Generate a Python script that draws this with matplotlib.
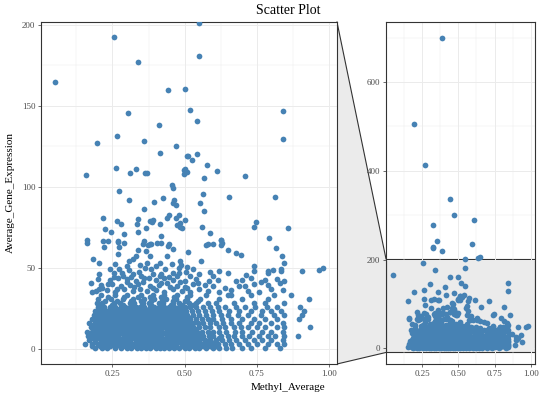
import numpy as np
import matplotlib.pyplot as plt
from matplotlib.patches import Polygon, Rectangle
from matplotlib.ticker import MultipleLocator

plt.rcParams['font.family'] = ['Liberation Serif', 'DejaVu Serif']

# sparse points (Methyl_Average, Average_Gene_Expression)
sparse_x = [0.049, 0.257, 0.34, 0.441, 0.501, 0.305, 0.411, 0.518, 0.265,
            0.549, 0.549, 0.544, 0.84, 0.84,
            0.195, 0.359, 0.469, 0.414, 0.51, 0.157, 0.263, 0.312, 0.33, 0.363, 0.37,
            0.497, 0.503, 0.51, 0.497,
            0.458, 0.461, 0.273, 0.309, 0.425, 0.393, 0.462, 0.46, 0.472, 0.361,
            0.216, 0.265, 0.28, 0.338, 0.335, 0.38, 0.387, 0.392, 0.415, 0.44, 0.445,
            0.47, 0.48, 0.474, 0.485, 0.485, 0.49,
            0.224, 0.244, 0.289, 0.34, 0.365, 0.162, 0.162, 0.216, 0.234, 0.27, 0.36,
            0.355, 0.382, 0.403, 0.42, 0.445,
            0.512, 0.527, 0.542, 0.577, 0.614, 0.568, 0.711, 0.563, 0.655, 0.815, 0.552,
            0.568, 0.5, 0.559, 0.587, 0.749, 0.742, 0.858, 0.792, 0.626, 0.58, 0.6, 0.63,
            0.575, 0.627, 0.627, 0.22, 0.274, 0.339, 0.365, 0.373, 0.443, 0.46, 0.513,
            0.65, 0.818, 0.38, 0.42, 0.27, 0.29,
            0.391, 0.192, 0.269, 0.442, 0.47, 0.609, 0.324, 0.356, 0.326, 0.326, 0.592,
            0.389, 0.637, 0.648]
sparse_y = [164.7, 192.6, 177, 159.8, 160.4, 145.6, 138.5, 147.7, 131.3,
            201, 181, 140.5, 146.9, 129.6,
            127.4, 128.2, 125, 120.8, 119, 107.7, 111.8, 108.7, 111.4, 108.7, 108.7,
            110.5, 111, 109, 108,
            101.5, 99.5, 97.8, 92, 93.3, 90.5, 92, 90, 89, 86.3,
            81, 79, 77.3, 80.4, 77.1, 79, 78.5, 79.5, 77.5, 81, 82.5,
            81, 82.5, 76.5, 78, 75.5, 74.5,
            74.2, 72.2, 71, 72.5, 74.5, 67.7, 65.4, 67, 67, 66, 66.5,
            64.8, 65, 65.3, 69.7, 65,
            119, 116.5, 120.6, 113.6, 110, 105.8, 106.7, 95.6, 94, 94, 90.2,
            85.3, 80, 75.7, 72, 78.6, 75.3, 75, 68.5, 67.5, 65, 65, 65.5,
            64.6, 67.3, 64.6, 63.2, 63, 61.5, 60.5, 64.6, 63.6, 62, 60,
            61.5, 62.6, 65, 65.6, 67, 65.5,
            700, 506, 413, 337, 301, 289, 278, 241, 229, 226, 235,
            219, 204, 205]

# middle band (about 35 to 60)
mid_x = [0.178, 0.204, 0.194, 0.23, 0.26, 0.29, 0.32, 0.345, 0.37, 0.4, 0.43, 0.46,
         0.49, 0.52, 0.55, 0.58, 0.62, 0.66, 0.719, 0.76, 0.8, 0.84,
         0.175, 0.21, 0.25, 0.28, 0.31, 0.34, 0.38, 0.41, 0.44, 0.475, 0.5, 0.53,
         0.57, 0.6, 0.688, 0.711, 0.74, 0.79, 0.83,
         0.2, 0.24, 0.27, 0.3, 0.33, 0.36, 0.4, 0.43, 0.46, 0.5, 0.54, 0.616, 0.679,
         0.73, 0.78, 0.82, 0.845,
         0.202, 0.255, 0.283, 0.32, 0.343, 0.39, 0.418, 0.459, 0.482, 0.505, 0.55,
         0.59, 0.621, 0.65, 0.713, 0.742, 0.791, 0.835, 0.909,
         0.243, 0.274, 0.309, 0.364, 0.384, 0.433, 0.48, 0.53, 0.742, 0.789, 0.806,
         0.835, 0.967, 0.982,
         0.204, 0.182, 0.307, 0.321, 0.333, 0.371, 0.379, 0.414, 0.44, 0.483, 0.489,
         0.558, 0.679, 0.696, 0.837, 0.844, 0.268,
         0.215, 0.235, 0.265, 0.3, 0.325, 0.355, 0.39, 0.42, 0.45, 0.485, 0.51, 0.545,
         0.255, 0.285, 0.315, 0.35, 0.375, 0.415, 0.445, 0.475, 0.52,
         0.3, 0.345, 0.4, 0.455, 0.26, 0.51, 0.585, 0.64, 0.6, 0.7, 0.765, 0.66]
mid_y = [35.3, 37, 35.9, 36.5, 35.5, 37.2, 36, 37.5, 35.8, 36.8, 35.4, 37.1,
         36.2, 35.6, 37.4, 36.1, 35.3, 36.7, 36, 35.5, 37, 36.3,
         41, 39.5, 40.2, 38.8, 39.7, 40.5, 38.9, 39.8, 40.6, 39.2, 38.7, 40.1,
         39.4, 38.9, 39, 39, 40.3, 39.6, 41,
         43.2, 42.5, 44, 43.1, 42.3, 43.8, 42.7, 44.2, 43, 42.4, 43.6, 43, 42,
         44.1, 42.8, 43.5, 42.2,
         46.6, 47.2, 47.2, 46.5, 47.8, 46.2, 46.3, 47.2, 46.8, 47.5, 46.4,
         47.6, 48, 47, 45.9, 48, 47.2, 48, 48,
         49.6, 49.8, 49.2, 50.1, 49.4, 49.8, 50.4, 49.5, 51.3, 48.2, 49.2,
         49.6, 49.2, 50.3,
         53.4, 55.4, 54.4, 55.4, 57.5, 53.4, 57.5, 53.4, 57.5, 54.3, 52.3,
         54.4, 59.1, 58.2, 57.4, 53.4, 58.5,
         38, 40.5, 37.5, 41.5, 38.5, 41.8, 37.8, 41.2, 38.2, 41.5, 37.9, 40.8,
         44.5, 45.5, 44.8, 45.3, 44.2, 45, 44.6, 45.5, 45.2,
         51.5, 52, 51.2, 52.5, 52.8, 51, 42, 38, 45, 42.5, 41.5, 33.5]

# dense band near the bottom, row by row
dense_levels = [1, 3.5, 6, 8.5, 11, 13.5, 16, 18.5, 21, 23.5, 26, 28.5, 31, 33.5,
                2.3, 4.8, 7.3, 9.8, 12.3, 14.8, 17.3, 19.8, 22.3, 24.8, 27.3, 29.8, 32.3]
dense_rows = [
    [0.19, 0.215, 0.23, 0.26, 0.28, 0.3, 0.315, 0.335, 0.35, 0.365, 0.38, 0.4, 0.415, 0.43,
     0.445, 0.465, 0.48, 0.5, 0.515, 0.535, 0.55, 0.575, 0.6, 0.62, 0.645, 0.665, 0.7, 0.73,
     0.78, 0.83],
    [0.155, 0.18, 0.2, 0.22, 0.235, 0.25, 0.27, 0.285, 0.3, 0.32, 0.34, 0.355, 0.37, 0.385,
     0.4, 0.42, 0.44, 0.455, 0.47, 0.49, 0.51, 0.525, 0.54, 0.56, 0.58, 0.595, 0.615, 0.64,
     0.66, 0.69, 0.72, 0.75, 0.79, 0.82, 0.845],
    [0.17, 0.19, 0.21, 0.225, 0.245, 0.26, 0.275, 0.295, 0.31, 0.33, 0.345, 0.36, 0.375,
     0.39, 0.41, 0.425, 0.445, 0.46, 0.48, 0.495, 0.515, 0.53, 0.55, 0.57, 0.59, 0.61, 0.63,
     0.655, 0.68, 0.71, 0.74, 0.77, 0.8, 0.84],
    [0.165, 0.185, 0.205, 0.22, 0.24, 0.255, 0.27, 0.29, 0.305, 0.32, 0.34, 0.355, 0.37,
     0.39, 0.405, 0.42, 0.44, 0.455, 0.475, 0.49, 0.51, 0.525, 0.545, 0.565, 0.585, 0.6,
     0.625, 0.65, 0.67, 0.7, 0.725, 0.76, 0.79, 0.815, 0.845, 0.893],
    [0.16, 0.18, 0.2, 0.215, 0.235, 0.25, 0.265, 0.285, 0.3, 0.315, 0.335, 0.35, 0.365,
     0.38, 0.4, 0.415, 0.435, 0.45, 0.47, 0.485, 0.505, 0.52, 0.54, 0.56, 0.58, 0.6, 0.62,
     0.645, 0.675, 0.7, 0.735, 0.77, 0.8, 0.84],
    [0.175, 0.195, 0.215, 0.23, 0.245, 0.265, 0.28, 0.3, 0.315, 0.33, 0.35, 0.365, 0.38,
     0.395, 0.41, 0.43, 0.445, 0.46, 0.48, 0.5, 0.515, 0.53, 0.55, 0.57, 0.59, 0.62, 0.64,
     0.67, 0.695, 0.72, 0.75, 0.78, 0.82, 0.845, 0.937],
    [0.17, 0.19, 0.21, 0.225, 0.24, 0.26, 0.275, 0.29, 0.31, 0.325, 0.34, 0.36, 0.375,
     0.39, 0.405, 0.42, 0.44, 0.455, 0.475, 0.49, 0.51, 0.53, 0.545, 0.565, 0.59, 0.61,
     0.635, 0.66, 0.69, 0.73, 0.76, 0.8, 0.84],
    [0.18, 0.2, 0.22, 0.235, 0.25, 0.27, 0.285, 0.3, 0.32, 0.335, 0.35, 0.37, 0.385, 0.4,
     0.415, 0.435, 0.45, 0.47, 0.485, 0.5, 0.52, 0.54, 0.56, 0.58, 0.6, 0.63, 0.66, 0.7,
     0.74, 0.78, 0.82, 0.896],
    [0.185, 0.205, 0.225, 0.24, 0.26, 0.275, 0.29, 0.31, 0.325, 0.34, 0.36, 0.375, 0.39,
     0.41, 0.425, 0.44, 0.46, 0.475, 0.49, 0.51, 0.53, 0.55, 0.575, 0.6, 0.625, 0.65, 0.685,
     0.72, 0.765, 0.81, 0.845, 0.906],
    [0.19, 0.21, 0.23, 0.25, 0.265, 0.28, 0.3, 0.32, 0.335, 0.35, 0.365, 0.385, 0.4, 0.42,
     0.435, 0.45, 0.47, 0.49, 0.505, 0.525, 0.545, 0.57, 0.595, 0.62, 0.655, 0.69, 0.73,
     0.77, 0.8, 0.835, 0.915],
    [0.2, 0.22, 0.24, 0.26, 0.28, 0.295, 0.31, 0.33, 0.345, 0.36, 0.38, 0.395, 0.41, 0.43,
     0.445, 0.465, 0.48, 0.5, 0.52, 0.54, 0.565, 0.59, 0.615, 0.64, 0.68, 0.71, 0.745,
     0.785, 0.82, 0.9],
    [0.195, 0.215, 0.255, 0.275, 0.31, 0.325, 0.355, 0.375, 0.41, 0.425, 0.46, 0.48, 0.515,
     0.54, 0.58, 0.61, 0.67, 0.74, 0.78, 0.845],
    [0.2, 0.245, 0.285, 0.32, 0.36, 0.395, 0.435, 0.47, 0.51, 0.555, 0.62, 0.7, 0.79,
     0.933],
    [0.21, 0.26, 0.3, 0.35, 0.39, 0.43, 0.475, 0.52, 0.575, 0.65, 0.73, 0.81, 0.87],
    [0.178, 0.205, 0.243, 0.262, 0.292, 0.308, 0.327, 0.343, 0.36, 0.373, 0.39, 0.408,
     0.423, 0.437, 0.455, 0.472, 0.49, 0.508, 0.525, 0.545, 0.565, 0.59, 0.61],
    [0.19, 0.21, 0.228, 0.243, 0.262, 0.278, 0.293, 0.31, 0.33, 0.347, 0.362, 0.378, 0.393,
     0.41, 0.43, 0.448, 0.463, 0.48, 0.5, 0.518, 0.533, 0.55, 0.57, 0.605],
    [0.18, 0.2, 0.217, 0.235, 0.252, 0.268, 0.285, 0.302, 0.32, 0.337, 0.352, 0.368, 0.383,
     0.4, 0.417, 0.435, 0.452, 0.47, 0.488, 0.505, 0.522, 0.54, 0.56, 0.62],
    [0.172, 0.193, 0.21, 0.228, 0.247, 0.262, 0.278, 0.297, 0.312, 0.328, 0.345, 0.36,
     0.375, 0.393, 0.41, 0.428, 0.445, 0.462, 0.48, 0.497, 0.515, 0.532, 0.55, 0.59],
    [0.185, 0.205, 0.225, 0.24, 0.257, 0.273, 0.29, 0.307, 0.323, 0.34, 0.357, 0.372,
     0.388, 0.405, 0.42, 0.438, 0.455, 0.47, 0.49, 0.507, 0.523, 0.54],
    [0.18, 0.2, 0.218, 0.237, 0.253, 0.27, 0.288, 0.305, 0.32, 0.338, 0.355, 0.37, 0.387,
     0.403, 0.42, 0.437, 0.452, 0.47, 0.488, 0.505, 0.52],
    [0.195, 0.215, 0.232, 0.25, 0.267, 0.283, 0.3, 0.317, 0.333, 0.35, 0.367, 0.382, 0.398,
     0.413, 0.43, 0.447, 0.463, 0.48, 0.497, 0.515],
    [0.19, 0.21, 0.228, 0.245, 0.262, 0.278, 0.295, 0.312, 0.328, 0.345, 0.36, 0.378, 0.393,
     0.41, 0.425, 0.443, 0.46, 0.478, 0.495, 0.513],
    [0.2, 0.218, 0.235, 0.252, 0.27, 0.285, 0.302, 0.318, 0.335, 0.35, 0.368, 0.383, 0.4,
     0.418, 0.435, 0.45, 0.468, 0.485, 0.5],
    [0.205, 0.222, 0.24, 0.258, 0.273, 0.29, 0.31, 0.327, 0.343, 0.358, 0.375, 0.392, 0.408,
     0.425, 0.443, 0.46, 0.478, 0.495],
    [0.21, 0.25, 0.285, 0.32, 0.352, 0.385, 0.418, 0.452, 0.49, 0.528],
    [0.225, 0.265, 0.313, 0.348, 0.385, 0.423, 0.46, 0.5, 0.545],
    [0.235, 0.29, 0.34, 0.38, 0.42, 0.465, 0.51],
]

x = list(sparse_x) + list(mid_x)
y = list(sparse_y) + list(mid_y)
for lev, row in zip(dense_levels, dense_rows):
    x += row
    y += [lev] * len(row)
x = np.array(x)
y = np.array(y)

point_col = '#4682B4'
grid_col = '#EBEBEB'
dark = '#333333'
xlim = (0.002, 1.029)
zoom_ylim = (-9, 201.7)
full_ylim = (-35, 735)

fig = plt.figure(figsize=(5.4, 3.99), dpi=100)
ax = fig.add_axes([41 / 540, 35 / 399, 296 / 540, 342 / 399])
ax2 = fig.add_axes([386 / 540, 35 / 399, 149 / 540, 342 / 399])

for a in (ax, ax2):
    a.set_xlim(*xlim)
    a.xaxis.set_major_locator(MultipleLocator(0.25))
    a.xaxis.set_minor_locator(MultipleLocator(0.125))
    a.grid(which='major', color=grid_col, lw=0.7)
    a.grid(which='minor', color=grid_col, lw=0.35)
    a.set_axisbelow(True)
    for s in a.spines.values():
        s.set_color(dark)
        s.set_linewidth(0.8)
    a.tick_params(which='major', length=2.5, width=0.5, color=dark, labelsize=6.5,
                  labelcolor='#4D4D4D', pad=1.5)
    a.tick_params(which='minor', length=0)

ax.set_ylim(*zoom_ylim)
ax.yaxis.set_major_locator(MultipleLocator(50))
ax.yaxis.set_minor_locator(MultipleLocator(25))
ax2.set_ylim(*full_ylim)
ax2.yaxis.set_major_locator(MultipleLocator(200))
ax2.yaxis.set_minor_locator(MultipleLocator(100))

xt = [0.25, 0.5, 0.75, 1.0]
for a in (ax, ax2):
    a.set_xticks(xt)
    a.set_xticklabels(['0.25', '0.50', '0.75', '1.00'])

# zoom indicator in the full panel
ax2.add_patch(Rectangle((xlim[0], zoom_ylim[0]), xlim[1] - xlim[0],
                        zoom_ylim[1] - zoom_ylim[0], facecolor=grid_col,
                        edgecolor=dark, lw=0.8, zorder=0.5))

ax.scatter(x, y, s=17, color=point_col, linewidths=0, zorder=3)
ax2.scatter(x, y, s=17, color=point_col, linewidths=0, zorder=3)

# connector between the panels
fig.canvas.draw()
inv = fig.transFigure.inverted()
p1 = inv.transform(ax.transAxes.transform((1, 1)))
p4 = inv.transform(ax.transAxes.transform((1, 0)))
p2 = inv.transform(ax2.transData.transform((xlim[0], zoom_ylim[1])))
p3 = inv.transform(ax2.transData.transform((xlim[0], zoom_ylim[0])))
fig.patches.append(Polygon([p1, p2, p3, p4], closed=True, transform=fig.transFigure,
                           facecolor=grid_col, edgecolor='none', zorder=-2))
fig.lines.append(plt.Line2D([p1[0], p2[0]], [p1[1], p2[1]], transform=fig.transFigure,
                            color=dark, lw=0.8, zorder=-1))
fig.lines.append(plt.Line2D([p4[0], p3[0]], [p4[1], p3[1]], transform=fig.transFigure,
                            color=dark, lw=0.8, zorder=-1))

fig.text(288 / 540, 1 - 10 / 399, 'Scatter Plot', ha='center', va='center', fontsize=10)
fig.text(288 / 540, 1 - 387 / 399, 'Methyl_Average', ha='center', va='center', fontsize=8)
fig.text(10 / 540, 1 - 193 / 399, 'Average_Gene_Expression', ha='center', va='center',
         rotation=90, fontsize=8)

fig.savefig('out.png', dpi=100)
